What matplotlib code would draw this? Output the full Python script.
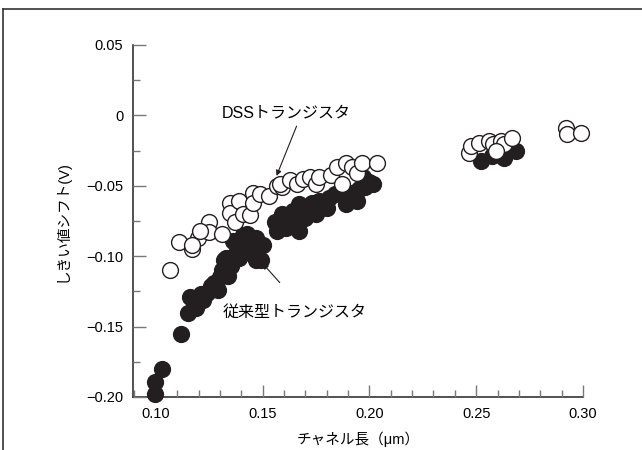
import matplotlib
matplotlib.use("Agg")
import matplotlib.pyplot as plt
from matplotlib.lines import Line2D
from matplotlib.ticker import MultipleLocator

plt.rcParams['font.family'] = ['Liberation Sans', 'Noto Sans CJK JP', 'DejaVu Sans']

# conventional transistor (filled)
conv_x = [0.0995, 0.0995, 0.103, 0.1117, 0.115, 0.116, 0.119, 0.122, 0.124, 0.127,
          0.129, 0.131, 0.134, 0.132, 0.136, 0.136, 0.141, 0.147, 0.150, 0.133,
          0.137, 0.144, 0.149, 0.138, 0.1425, 0.139, 0.147, 0.144, 0.1556, 0.1565,
          0.161, 0.159, 0.166, 0.167, 0.172, 0.170, 0.1766, 0.181, 0.167, 0.175,
          0.180, 0.1874, 0.1907, 0.189, 0.195, 0.200, 0.2015, 0.194, 0.197,
          0.118, 0.121, 0.126, 0.130, 0.135, 0.140, 0.145, 0.142, 0.158, 0.163,
          0.169, 0.173, 0.178, 0.184, 0.192, 0.198, 0.164, 0.171,
          0.2524, 0.2575, 0.263, 0.2687]
conv_y = [-0.198, -0.189, -0.180, -0.155, -0.140, -0.129, -0.137, -0.131, -0.126, -0.119,
          -0.124, -0.110, -0.114, -0.103, -0.101, -0.089, -0.085, -0.087, -0.092, -0.101,
          -0.099, -0.098, -0.103, -0.093, -0.084, -0.101, -0.103, -0.096, -0.076, -0.082,
          -0.080, -0.070, -0.073, -0.063, -0.066, -0.073, -0.061, -0.059, -0.082, -0.070,
          -0.066, -0.052, -0.059, -0.063, -0.052, -0.047, -0.049, -0.061, -0.044,
          -0.133, -0.127, -0.121, -0.115, -0.107, -0.092, -0.091, -0.094, -0.075, -0.077,
          -0.069, -0.062, -0.063, -0.056, -0.055, -0.051, -0.068, -0.070,
          -0.0324, -0.029, -0.030, -0.025]

# DSS transistor (open)
dss_x = [0.1066, 0.1107, 0.1168, 0.1196, 0.117, 0.1247, 0.125, 0.131, 0.1346, 0.1346,
         0.137, 0.139, 0.1406, 0.144, 0.1454, 0.1454, 0.1486, 0.153, 0.1565, 0.159,
         0.1206, 0.158, 0.1626, 0.166, 0.1687, 0.172, 0.175, 0.1766, 0.182, 0.187,
         0.185, 0.189, 0.192, 0.1944, 0.1967, 0.2037,
         0.2467, 0.2475, 0.2514, 0.2560, 0.258, 0.2615, 0.263, 0.2668, 0.2593,
         0.292, 0.2925, 0.299]
dss_y = [-0.1095, -0.090, -0.095, -0.087, -0.092, -0.076, -0.083, -0.084, -0.062, -0.069,
         -0.076, -0.061, -0.070, -0.071, -0.055, -0.062, -0.056, -0.057, -0.050, -0.051,
         -0.082, -0.0486, -0.046, -0.0486, -0.045, -0.044, -0.049, -0.044, -0.042, -0.049,
         -0.037, -0.034, -0.037, -0.041, -0.034, -0.034,
         -0.0267, -0.022, -0.0195, -0.018, -0.020, -0.018, -0.020, -0.016, -0.025,
         -0.009, -0.0133, -0.0125]

fig = plt.figure(figsize=(6.42, 4.5), dpi=100)

# outer frame (top and left only)
fig.add_artist(Line2D([3 / 642, 3 / 642], [0, 1 - 9 / 450], color='#333333', lw=1.2))
fig.add_artist(Line2D([3 / 642, 1], [1 - 9 / 450, 1 - 9 / 450], color='#333333', lw=1.2))

ax = fig.add_axes([133 / 642, 1 - 397 / 450, 450 / 642, 352 / 450])

ax.scatter(conv_x, conv_y, s=130, facecolor='#231f20', edgecolor='#231f20', lw=1,
           zorder=2, clip_on=False)
ax.scatter(dss_x, dss_y, s=130, facecolor='white', edgecolor='#231f20', lw=1,
           zorder=3, clip_on=False)

ax.set_xlim(0.0893, 0.30)
ax.set_ylim(-0.20, 0.05)
ax.xaxis.set_minor_locator(MultipleLocator(0.01))
ax.yaxis.set_minor_locator(MultipleLocator(0.025))
ax.set_xticks([0.10, 0.15, 0.20, 0.25, 0.30])
ax.set_xticklabels(['0.10', '0.15', '0.20', '0.25', '0.30'])
ax.set_yticks([-0.20, -0.15, -0.10, -0.05, 0, 0.05])
ax.set_yticklabels(['\u22120.20', '\u22120.15', '\u22120.10', '\u22120.05', '0', '0.05'])

for s in ['top', 'right']:
    ax.spines[s].set_visible(False)
for s in ['left', 'bottom']:
    ax.spines[s].set_color('#333333')
    ax.spines[s].set_linewidth(1.2)
    ax.spines[s].set_zorder(1)

ax.tick_params(which='major', direction='in', length=9, width=1, color='#777777',
               labelsize=10.5, pad=7)
ax.tick_params(which='minor', direction='in', length=5, width=1, color='#777777')

ax.set_xlabel('チャネル長（μm）', fontsize=10.5, labelpad=8)
ax.set_ylabel('しきい値シフト(V)', fontsize=10.5, labelpad=12)

ax.text(0.1612, 0.0015, 'DSSトランジスタ', fontsize=11.5, ha='center', va='center')
ax.annotate('', xy=(0.1565, -0.043), xytext=(0.1659, -0.0076),
            arrowprops=dict(arrowstyle='-|>', color='#231f20', lw=0.8,
                            mutation_scale=8, shrinkA=0, shrinkB=0))

ax.text(0.165, -0.140, '従来型トランジスタ', fontsize=11.5, ha='center', va='center')
ax.annotate('', xy=(0.150, -0.1052), xytext=(0.158, -0.1187),
            arrowprops=dict(arrowstyle='-|>', color='#231f20', lw=0.8,
                            mutation_scale=8, shrinkA=0, shrinkB=0))

fig.savefig('out.png', dpi=100)
